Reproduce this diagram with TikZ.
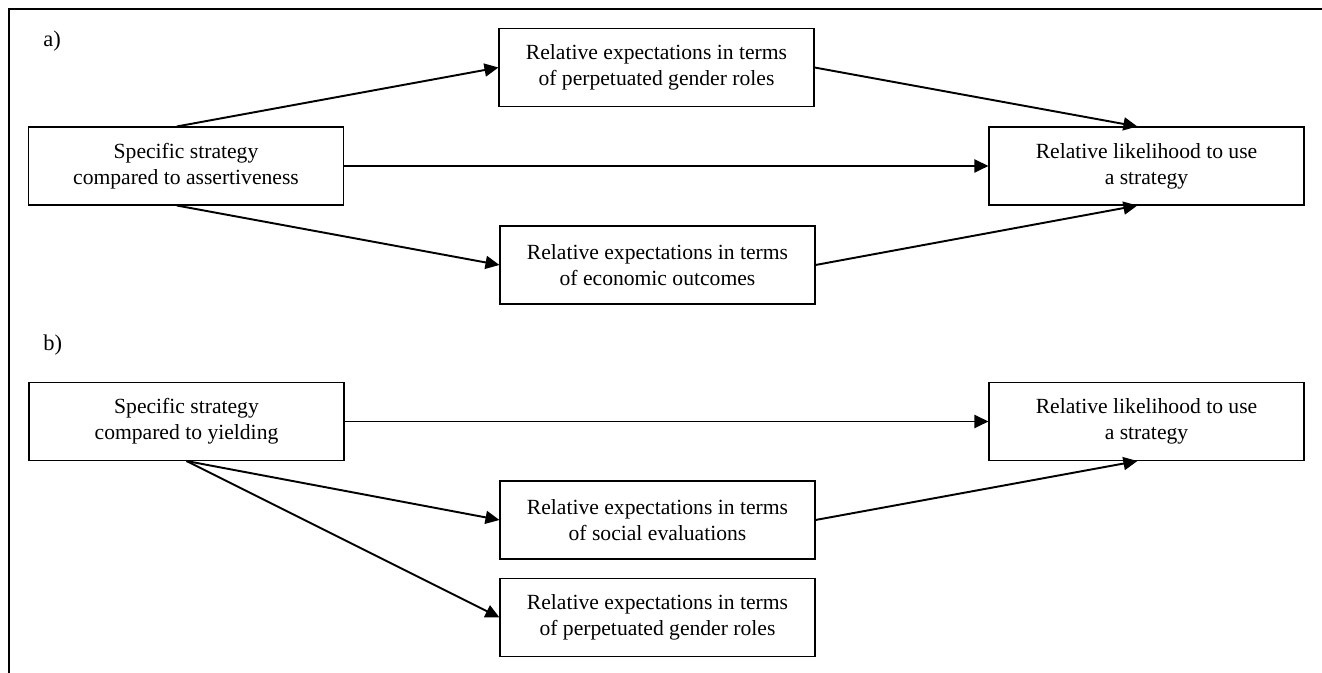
\documentclass[tikz,border=0pt]{standalone}
\usepackage{fontspec}
\setmainfont{Liberation Serif}
\usetikzlibrary{arrows.meta,positioning}
\tikzset{
  box/.style={draw=black,line width=0.6pt,fill=white,align=center,
              minimum width=63mm,minimum height=15.6mm,inner sep=3pt,
              font=\fontsize{12.3}{14.8}\selectfont},
  flow/.style={-{Triangle[length=2.8mm,width=2.6mm]},line width=1.1pt,draw=black},
  panel/.style={font=\fontsize{12.8}{15}\selectfont,anchor=west,inner sep=0pt},
  frame/.style={line width=0.7pt}
}

\begin{document}
\begin{tikzpicture}
  \useasboundingbox (0,0) rectangle (26.44,13.46);
  \draw[frame] (26.44,13.28) -- (0.18,13.28) -- (0.18,0);

  % panel a
  \node[panel] (labelA) at (0.86,12.64) {a)};
  \node[box] (assert) at (3.72,10.14) {Specific strategy\\compared to assertiveness};
  \node[box] (genderA) at (13.13,12.11) {Relative expectations in terms\\of perpetuated gender roles};
  \node[box] (economic) at (13.15,8.16) {Relative expectations in terms\\of economic outcomes};
  \node[box] (likeA) at (22.93,10.14) {Relative likelihood to use\\a strategy};

  \draw[flow] (assert.103) -- (genderA.west);
  \draw[flow] (genderA.east) -- (likeA.103);
  \draw[flow] (assert.east) -- (likeA.west);
  \draw[flow] (assert.257) -- (economic.west);
  \draw[flow] (economic.east) -- (likeA.257);

  % panel b
  \node[panel] (labelB) at (0.86,6.56) {b)};
  \node[box] (yield) at (3.73,5.03) {Specific strategy\\compared to yielding};
  \node[box] (likeB) at (22.93,5.03) {Relative likelihood to use\\a strategy};
  \node[box] (social) at (13.15,3.06) {Relative expectations in terms\\of social evaluations};
  \node[box] (genderB) at (13.15,1.11) {Relative expectations in terms\\of perpetuated gender roles};

  \draw[flow] (yield.east) -- (likeB.west);
  \draw[flow] (yield.south) -- (social.west);
  \draw[flow] (yield.south) -- (genderB.west);
  \draw[flow] (social.east) -- (likeB.257);
\end{tikzpicture}
\end{document}
